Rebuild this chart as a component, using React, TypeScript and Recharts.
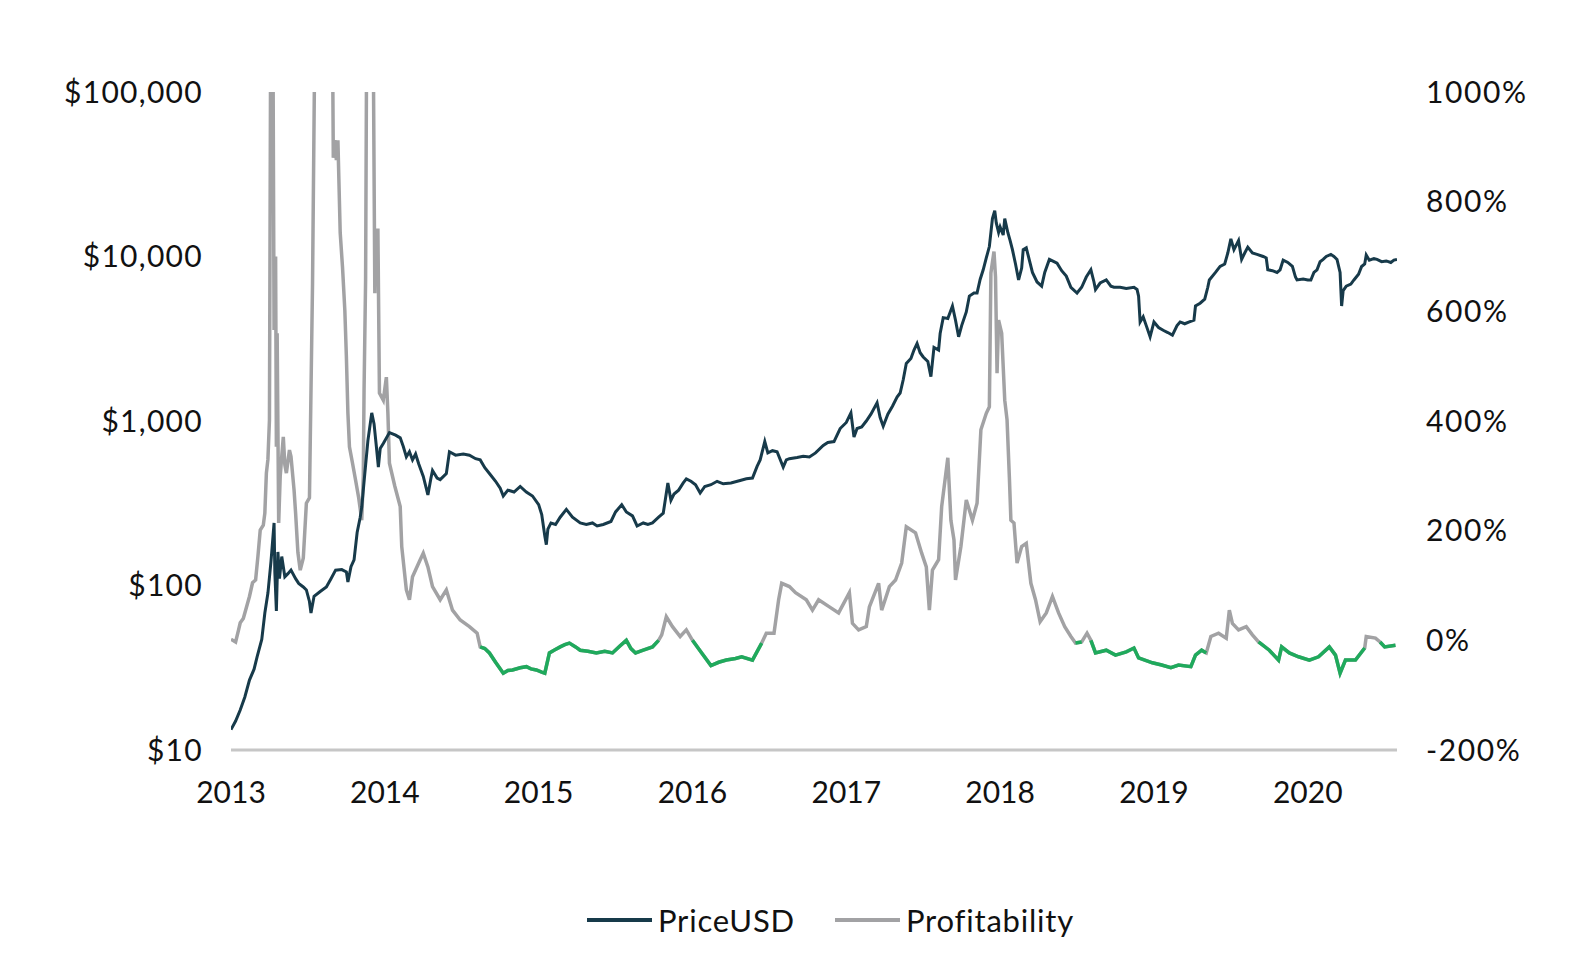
import React from 'react';
import { LineChart, Line, XAxis, YAxis, Legend } from 'recharts';

const PRICE_COLOR = '#173a4a';
const PROFIT_COLOR = '#a2a2a4';
const LOSS_COLOR = '#1faa5c';
const FONT = 'Lato, "Noto Sans", sans-serif';

const yearTicks = [2013, 2014, 2015, 2016, 2017, 2018, 2019, 2020];
const priceTicks = [10, 100, 1000, 10000, 100000];
const profitTicks = [-200, 0, 200, 400, 600, 800, 1000];

const priceYears = [
  2013.0, 2013.03, 2013.06, 2013.09, 2013.12, 2013.15, 2013.17, 2013.2, 2013.22, 2013.24,
  2013.26, 2013.28, 2013.285, 2013.295, 2013.305, 2013.315, 2013.33, 2013.35, 2013.37, 2013.39,
  2013.42, 2013.44, 2013.47, 2013.49, 2013.51, 2013.52, 2013.54, 2013.58, 2013.62, 2013.65,
  2013.68, 2013.72, 2013.75, 2013.76, 2013.78, 2013.8, 2013.82, 2013.84, 2013.85, 2013.87,
  2013.89, 2013.915, 2013.93, 2013.945, 2013.958, 2013.97, 2013.99, 2014.03, 2014.07, 2014.1,
  2014.12, 2014.14, 2014.16, 2014.18, 2014.2, 2014.22, 2014.25, 2014.28, 2014.3, 2014.31,
  2014.34, 2014.36, 2014.4, 2014.42, 2014.46, 2014.51, 2014.55, 2014.59, 2014.62, 2014.65,
  2014.68, 2014.72, 2014.75, 2014.77, 2014.8, 2014.84, 2014.88, 2014.92, 2014.96, 2015.0,
  2015.02, 2015.04, 2015.05, 2015.06, 2015.08, 2015.11, 2015.14, 2015.18, 2015.22, 2015.27,
  2015.31, 2015.35, 2015.38, 2015.42, 2015.47, 2015.5, 2015.54, 2015.57, 2015.61, 2015.64,
  2015.68, 2015.71, 2015.74, 2015.78, 2015.81, 2015.84, 2015.86, 2015.88, 2015.91, 2015.94,
  2015.96, 2015.99, 2016.02, 2016.05, 2016.08, 2016.12, 2016.16, 2016.2, 2016.25, 2016.31,
  2016.35, 2016.39, 2016.42, 2016.44, 2016.47, 2016.49, 2016.52, 2016.55, 2016.59, 2016.61,
  2016.63, 2016.68, 2016.72, 2016.76, 2016.8, 2016.85, 2016.88, 2016.92, 2016.96, 2017.0,
  2017.03, 2017.05, 2017.07, 2017.1, 2017.13, 2017.16, 2017.2, 2017.22, 2017.24, 2017.27,
  2017.3, 2017.33, 2017.35, 2017.37, 2017.39, 2017.42, 2017.44, 2017.46, 2017.48, 2017.5,
  2017.53, 2017.55, 2017.57, 2017.6, 2017.61, 2017.63, 2017.66, 2017.69, 2017.71, 2017.73,
  2017.75, 2017.78, 2017.8, 2017.83, 2017.85, 2017.87, 2017.89, 2017.91, 2017.93, 2017.95,
  2017.965, 2017.975, 2017.99, 2018.0, 2018.02, 2018.03, 2018.05, 2018.065, 2018.08, 2018.1,
  2018.12, 2018.14, 2018.15, 2018.17, 2018.19, 2018.21, 2018.24, 2018.27, 2018.29, 2018.32,
  2018.35, 2018.37, 2018.4, 2018.43, 2018.46, 2018.5, 2018.53, 2018.56, 2018.59, 2018.61,
  2018.62, 2018.65, 2018.69, 2018.72, 2018.74, 2018.78, 2018.82, 2018.87, 2018.89, 2018.9,
  2018.91, 2018.93, 2018.95, 2018.975, 2019.0, 2019.03, 2019.06, 2019.09, 2019.12, 2019.15,
  2019.17, 2019.2, 2019.23, 2019.26, 2019.27, 2019.3, 2019.33, 2019.35, 2019.36, 2019.4,
  2019.43, 2019.46, 2019.48, 2019.5, 2019.52, 2019.55, 2019.57, 2019.59, 2019.61, 2019.64,
  2019.67, 2019.71, 2019.73, 2019.74, 2019.77, 2019.8, 2019.82, 2019.84, 2019.87, 2019.9,
  2019.92, 2019.93, 2019.97, 2020.0, 2020.02, 2020.04, 2020.06, 2020.08, 2020.1, 2020.12,
  2020.15, 2020.17, 2020.19, 2020.21, 2020.22, 2020.23, 2020.25, 2020.28, 2020.3, 2020.33,
  2020.35, 2020.37, 2020.38, 2020.4, 2020.43, 2020.45, 2020.48, 2020.51, 2020.54, 2020.56,
  2020.58,
];

const priceValues = [
  13.3, 15, 17.5, 21, 26.6, 31, 37, 47, 68, 90,
  140, 240, 120, 70, 160, 110, 150, 113, 118, 124,
  110, 103, 98, 94, 80, 68, 86, 92, 98, 110,
  124, 125, 121, 105, 130, 143, 210, 260, 300, 480,
  760, 1120, 960, 700, 525, 680, 730, 850, 820, 790,
  700, 605, 650, 580, 630, 550, 460, 355, 450, 500,
  450, 440, 480, 650, 620, 630, 620, 590, 580, 520,
  480, 430, 390, 350, 380, 370, 400, 370, 350, 310,
  270, 200, 177, 220, 240, 235, 260, 290, 260, 240,
  235, 240, 230, 235, 245, 280, 310, 280, 265, 230,
  240, 235, 240, 260, 275, 420, 330, 360, 380, 420,
  445, 430, 410, 365, 400, 410, 430, 415, 420, 435,
  445, 450, 530, 580, 750, 640, 660, 650, 525, 580,
  590, 600, 610, 605, 640, 710, 740, 750, 900, 980,
  1120, 800, 900, 920, 1000, 1100, 1290, 1050, 930, 1100,
  1230, 1400, 1480, 1780, 2240, 2400, 2700, 2960, 2600, 2450,
  2300, 1860, 2800, 2700, 3400, 4250, 4200, 5000, 4100, 3250,
  3800, 4600, 5750, 6000, 6000, 7250, 8300, 9800, 11500, 17000,
  19000, 16000, 14000, 15100, 13500, 17000, 14000, 12500, 11000, 9000,
  7200, 8500, 11000, 11300, 9500, 8000, 7000, 6600, 8000, 9600,
  9300, 9100, 8200, 7600, 6500, 6000, 6500, 7500, 8300, 7000,
  6300, 6900, 7200, 6600, 6500, 6500, 6400, 6500, 6300, 5750,
  4000, 4300, 3800, 3250, 4000, 3700, 3560, 3450, 3330, 3800,
  4000, 3900, 4000, 4100, 5000, 5200, 5500, 6500, 7200, 8000,
  8700, 9000, 10500, 12800, 11000, 12500, 9600, 10500, 11400, 10500,
  10300, 10000, 9800, 8300, 8200, 8000, 8300, 9500, 9200, 8700,
  7500, 7200, 7300, 7200, 7200, 8000, 8300, 9300, 9600, 10000,
  10300, 10000, 9600, 8000, 5000, 6200, 6600, 6800, 7200, 7800,
  8700, 9000, 10200, 9500, 9700, 9600, 9300, 9400, 9200, 9500,
  9600,
];

const profitYears = [
  2013.0, 2013.03, 2013.05, 2013.06, 2013.08, 2013.09, 2013.11, 2013.12, 2013.14, 2013.16,
  2013.175, 2013.19, 2013.21, 2013.22, 2013.23, 2013.24, 2013.25, 2013.26, 2013.27, 2013.28,
  2013.29, 2013.295, 2013.3, 2013.31, 2013.32, 2013.34, 2013.35, 2013.36, 2013.38, 2013.39,
  2013.41, 2013.42, 2013.435, 2013.45, 2013.47, 2013.49, 2013.51, 2013.53, 2013.545, 2013.56,
  2013.6, 2013.64, 2013.66, 2013.665, 2013.675, 2013.685, 2013.695, 2013.71, 2013.725, 2013.74,
  2013.75, 2013.76, 2013.77, 2013.79, 2013.81, 2013.83, 2013.85, 2013.86, 2013.865, 2013.875,
  2013.885, 2013.92, 2013.935, 2013.94, 2013.955, 2013.965, 2013.99, 2014.01, 2014.02, 2014.03,
  2014.065, 2014.1, 2014.11, 2014.14, 2014.16, 2014.18, 2014.23, 2014.25, 2014.28, 2014.31,
  2014.36, 2014.4, 2014.44, 2014.49, 2014.55, 2014.6, 2014.62, 2014.65, 2014.68, 2014.72,
  2014.77, 2014.8, 2014.83, 2014.88, 2014.92, 2014.95, 2014.985, 2015.02, 2015.04, 2015.07,
  2015.1, 2015.14, 2015.17, 2015.2, 2015.24, 2015.27, 2015.32, 2015.375, 2015.43, 2015.48,
  2015.53, 2015.57, 2015.6, 2015.63, 2015.68, 2015.74, 2015.78, 2015.8, 2015.83, 2015.87,
  2015.92, 2015.96, 2016.0, 2016.06, 2016.12, 2016.17, 2016.22, 2016.28, 2016.32, 2016.39,
  2016.45, 2016.48, 2016.53, 2016.56, 2016.58, 2016.63, 2016.67, 2016.74, 2016.78, 2016.82,
  2016.89, 2016.95, 2017.02, 2017.04, 2017.08, 2017.13, 2017.15, 2017.21, 2017.23, 2017.28,
  2017.32, 2017.36, 2017.39, 2017.45, 2017.49, 2017.52, 2017.54, 2017.56, 2017.6, 2017.62,
  2017.66, 2017.68, 2017.7, 2017.71, 2017.745, 2017.78, 2017.82, 2017.85, 2017.875, 2017.91,
  2017.93, 2017.94, 2017.96, 2017.97, 2017.98, 2017.99, 2018.01, 2018.03, 2018.045, 2018.06,
  2018.07, 2018.09, 2018.11, 2018.14, 2018.17, 2018.19, 2018.2, 2018.23, 2018.26, 2018.3,
  2018.34, 2018.38, 2018.42, 2018.46, 2018.49, 2018.53, 2018.565, 2018.59, 2018.62, 2018.69,
  2018.75, 2018.82, 2018.87, 2018.9, 2018.99, 2019.05, 2019.11, 2019.16, 2019.24, 2019.27,
  2019.31, 2019.34, 2019.37, 2019.42, 2019.47, 2019.49, 2019.51, 2019.55, 2019.6, 2019.64,
  2019.68, 2019.75, 2019.81, 2019.83, 2019.88, 2019.94, 2020.01, 2020.07, 2020.14, 2020.18,
  2020.21, 2020.245, 2020.31, 2020.37, 2020.38, 2020.44, 2020.47, 2020.5, 2020.57,
];

const profitValues = [
  2, -3, 20, 32, 40, 50, 70, 80, 105, 110,
  153, 201, 210, 232, 305, 330, 402, 1300, 1300, 566,
  700, 353, 560, 214, 300, 371, 320, 305, 347, 335,
  274, 232, 160, 128, 150, 250, 260, 650, 1100, 1500,
  1500, 1500, 1100, 880, 912, 876, 912, 743, 680, 602,
  518, 414, 353, 323, 292, 260, 219, 300, 456, 657,
  1300, 1300, 633, 748, 748, 451, 438, 480, 414, 323,
  281, 244, 171, 92, 74, 116, 147, 159, 134, 98,
  74, 92, 55, 37, 25, 13, -12, -15, -23, -40,
  -60, -55, -54, -50, -48, -52, -54, -58, -60, -23,
  -18, -12, -8, -5, -12, -18, -20, -23, -20, -23,
  -10, 0, -15, -23, -18, -12, 0, 10, 43, 25,
  7, 19, 0, -23, -46, -40, -36, -33, -30, -36,
  -5, 13, 13, 74, 104, 98, 87, 74, 55, 74,
  61, 50, 87, 31, 19, 25, 61, 104, 55, 98,
  110, 141, 207, 196, 159, 134, 55, 128, 147, 244,
  333, 219, 183, 110, 171, 256, 219, 250, 384, 414,
  426, 670, 709, 663, 487, 584, 560, 438, 402, 298,
  219, 214, 141, 171, 177, 128, 104, 74, 34, 50,
  80, 50, 25, 7, -5, -3, 13, 0, -23, -18,
  -27, -21, -14, -32, -41, -45, -50, -45, -48, -27,
  -18, -23, 7, 13, 4, 55, 31, 19, 25, 10,
  -3, -18, -36, -12, -23, -30, -36, -30, -12, -27,
  -60, -36, -36, -14, 7, 4, -3, -12, -9,
];

const priceData = priceYears.map((t, i) => ({ t, price: priceValues[i] }));
const profitData = profitYears.map((t, i) => ({
  t,
  profit: profitValues[i],
  loss: profitValues[i] <= 0 ? profitValues[i] : null,
}));

const legendItems = [
  { label: 'PriceUSD', color: PRICE_COLOR },
  { label: 'Profitability', color: PROFIT_COLOR },
];

const renderLegend = () => (
  <div
    style={{
      height: 60,
      display: 'flex',
      alignItems: 'center',
      paddingLeft: 579,
      fontFamily: FONT,
      fontSize: 31,
      letterSpacing: 0.8,
      color: '#111',
    }}
  >
    {legendItems.map((item) => (
      <div key={item.label} style={{ display: 'flex', alignItems: 'center', marginRight: 40 }}>
        <span style={{ display: 'inline-block', width: 65, height: 4, background: item.color, marginRight: 6 }} />
        <span>{item.label}</span>
      </div>
    ))}
  </div>
);

const xTickStyle = { fill: '#111', fontSize: 30, fontFamily: FONT };
const leftTickStyle = { fill: '#111', fontSize: 30, fontFamily: FONT, letterSpacing: 1.3 };
const rightTickStyle = { fill: '#111', fontSize: 30, fontFamily: FONT, letterSpacing: 1.6 };

export default function App() {
  return (
    <LineChart
      width={1570}
      height={956}
      data={profitData}
      margin={{ top: 84, right: 0, bottom: 14, left: 0 }}
    >
      <XAxis
        dataKey="t"
        type="number"
        domain={[2013, 2020.58]}
        ticks={yearTicks}
        allowDataOverflow
        axisLine={{ stroke: '#c6c6c6', strokeWidth: 3 }}
        tickLine={false}
        tick={xTickStyle}
        tickMargin={26}
        height={140}
      />
      <YAxis
        yAxisId="price"
        orientation="left"
        scale="log"
        domain={[10, 100000]}
        ticks={priceTicks}
        allowDataOverflow
        axisLine={false}
        tickLine={false}
        tick={leftTickStyle}
        tickMargin={22}
        width={223}
        tickFormatter={(v: number) => '$' + v.toLocaleString('en-US')}
      />
      <YAxis
        yAxisId="profit"
        orientation="right"
        domain={[-200, 1000]}
        ticks={profitTicks}
        allowDataOverflow
        axisLine={false}
        tickLine={false}
        tick={rightTickStyle}
        tickMargin={23}
        width={181}
        tickFormatter={(v: number) => `${v}%`}
      />
      <Line
        yAxisId="profit"
        dataKey="profit"
        type="linear"
        stroke={PROFIT_COLOR}
        strokeWidth={3.5}
        dot={false}
        isAnimationActive={false}
        legendType="none"
      />
      <Line
        yAxisId="profit"
        dataKey="loss"
        type="linear"
        stroke={LOSS_COLOR}
        strokeWidth={3.5}
        dot={false}
        connectNulls={false}
        isAnimationActive={false}
        legendType="none"
      />
      <Line
        yAxisId="price"
        data={priceData}
        dataKey="price"
        type="linear"
        stroke={PRICE_COLOR}
        strokeWidth={3}
        dot={false}
        isAnimationActive={false}
      />
      <Legend verticalAlign="bottom" height={60} content={renderLegend} />
    </LineChart>
  );
}
